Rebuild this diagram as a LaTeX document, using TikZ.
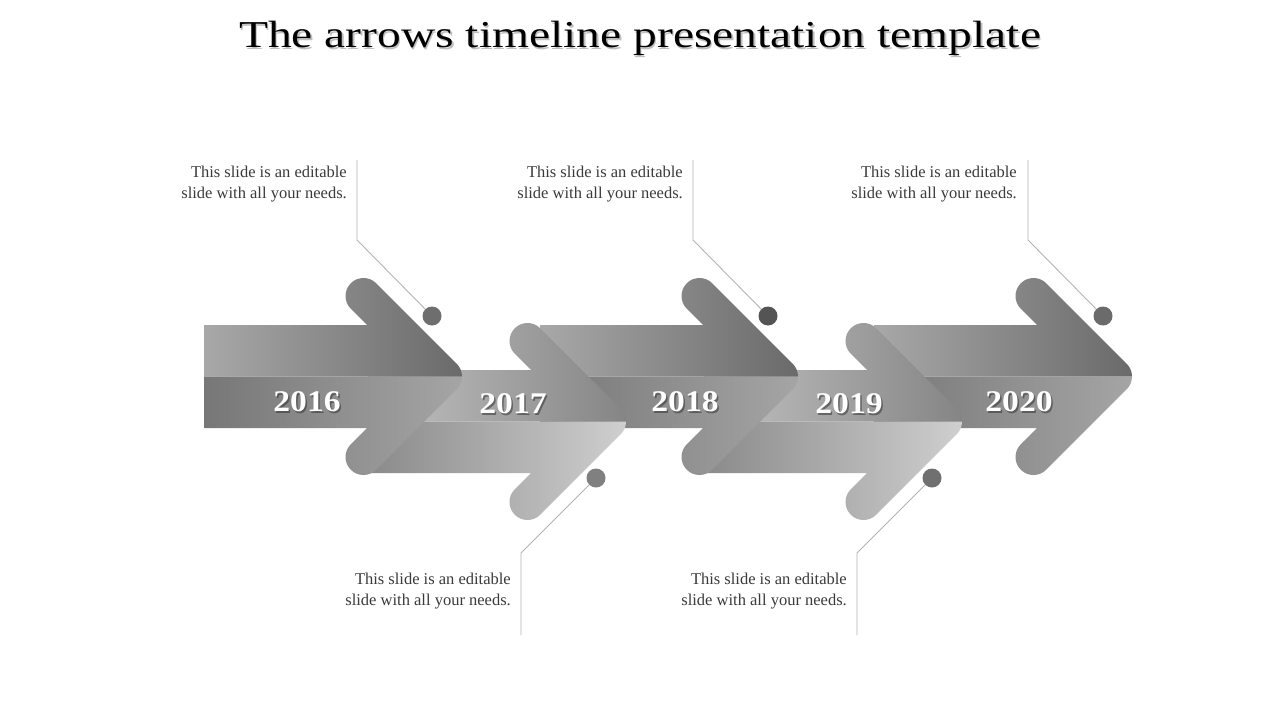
\documentclass[tikz,border=0pt]{standalone}
\usepackage{fontspec}
\setmainfont{Liberation Serif}
\newfontfamily\titlefont{Liberation Serif}[FakeStretch=1.25]
\newfontfamily\yearfont{Liberation Serif}[FakeStretch=1.12]
\definecolor{oddUL}{HTML}{A8A8A8}
\definecolor{oddUR}{HTML}{6A6A6A}
\definecolor{oddLL}{HTML}{777777}
\definecolor{oddLR}{HTML}{A5A5A5}
\definecolor{evUL}{HTML}{C2C2C2}
\definecolor{evUR}{HTML}{858585}
\definecolor{evLL}{HTML}{8A8A8A}
\definecolor{evLR}{HTML}{CFCFCF}
\definecolor{leader}{HTML}{B4B4B4}
\definecolor{bodytext}{HTML}{3A3A3A}
% #1 tip x, #2 centre y, #3-#6 colours
\newcommand\tlarrow[6]{%
  \shade[left color=#3,right color=#4]
    ({#1-258},{#2}) -- ({#1-258},{#2-51.5}) -- ({#1-95},{#2-51.5})
    -- ({#1-111.23},{#2-67.77}) arc[start angle=135,end angle=315,radius=18]
    -- ({#1-5.27},{#2-12.73}) arc[start angle=-45,end angle=0,radius=18] -- cycle;
  \shade[left color=#5,right color=#6]
    ({#1-258},{#2}) -- ({#1},{#2}) arc[start angle=0,end angle=45,radius=18]
    -- ({#1-85.77},{#2+93.23}) arc[start angle=45,end angle=225,radius=18]
    -- ({#1-95},{#2+51.5}) -- ({#1-258},{#2+51.5}) -- cycle;
}
\tikzset{
  dot/.style={circle,inner sep=0pt,minimum size=19pt},
  leaderline/.style={draw=leader,line width=0.9pt},
  desc/.style={align=right,font=\fontsize{16.5}{21}\selectfont,text=bodytext,inner sep=0pt},
  yearlbl/.style={font=\yearfont\bfseries\fontsize{30}{32}\selectfont,text=white,inner sep=0pt},
  yearshadow/.style={font=\yearfont\bfseries\fontsize{30}{32}\selectfont,text=black!80,opacity=0.55,inner sep=0pt},
}
\begin{document}
\begin{tikzpicture}[x=1pt,y=-1pt]
\useasboundingbox[fill=white] (0,0) rectangle (1280,720);

% title
\node[font=\titlefont\fontsize{38}{44}\selectfont,text=black!25,inner sep=0pt,anchor=base] (titleshadow) at (641.5,49.5) {The arrows timeline presentation template};
\node[font=\titlefont\fontsize{38}{44}\selectfont,text=black,inner sep=0pt,anchor=base] (title) at (640,47) {The arrows timeline presentation template};

% arrows (back to front)
\tlarrow{1132}{376.5}{oddUL}{oddUR}{oddLL}{oddLR}
\tlarrow{962}{421.5}{evUL}{evUR}{evLL}{evLR}
\tlarrow{798}{376.5}{oddUL}{oddUR}{oddLL}{oddLR}
\tlarrow{626}{421.5}{evUL}{evUR}{evLL}{evLR}
\tlarrow{462}{376.5}{oddUL}{oddUR}{oddLL}{oddLR}

% year labels
\foreach \yx/\yy/\yt/\nm in {307/402/2016/ya,513/404/2017/yb,685/402/2018/yc,849/404/2019/yd,1019/402/2020/ye}{
  \node[yearshadow] (\nm s) at (\yx+1.5,\yy+1.8) {\yt};
  \node[yearlbl] (\nm) at (\yx,\yy) {\yt};
}

% leader line bends and ends
\coordinate (k1) at (357,240); \coordinate (e1) at (357,160);
\coordinate (k2) at (693,240); \coordinate (e2) at (693,160);
\coordinate (k3) at (1028,240); \coordinate (e3) at (1028,160);
\coordinate (k4) at (521,553); \coordinate (e4) at (521,635);
\coordinate (k5) at (857,553); \coordinate (e5) at (857,635);

\node[dot,fill=black!57] (d1) at (432,316) {};
\node[dot,fill=black!67] (d2) at (768,316) {};
\node[dot,fill=black!58] (d3) at (1103,316) {};
\node[dot,fill=black!50] (d4) at (596,478) {};
\node[dot,fill=black!56] (d5) at (932,478) {};

\draw[leaderline] (d1) -- (k1) -- (e1);
\draw[leaderline] (d2) -- (k2) -- (e2);
\draw[leaderline] (d3) -- (k3) -- (e3);
\draw[leaderline] (d4) -- (k4) -- (e4);
\draw[leaderline] (d5) -- (k5) -- (e5);

% descriptions
\node[desc,anchor=east] (t1) at (347,184.5) {This slide is an editable\\slide with all your needs.};
\node[desc,anchor=east] (t2) at (683,184.5) {This slide is an editable\\slide with all your needs.};
\node[desc,anchor=east] (t3) at (1017,184.5) {This slide is an editable\\slide with all your needs.};
\node[desc,anchor=east] (t4) at (511,591.5) {This slide is an editable\\slide with all your needs.};
\node[desc,anchor=east] (t5) at (847,591.5) {This slide is an editable\\slide with all your needs.};
\end{tikzpicture}
\end{document}
